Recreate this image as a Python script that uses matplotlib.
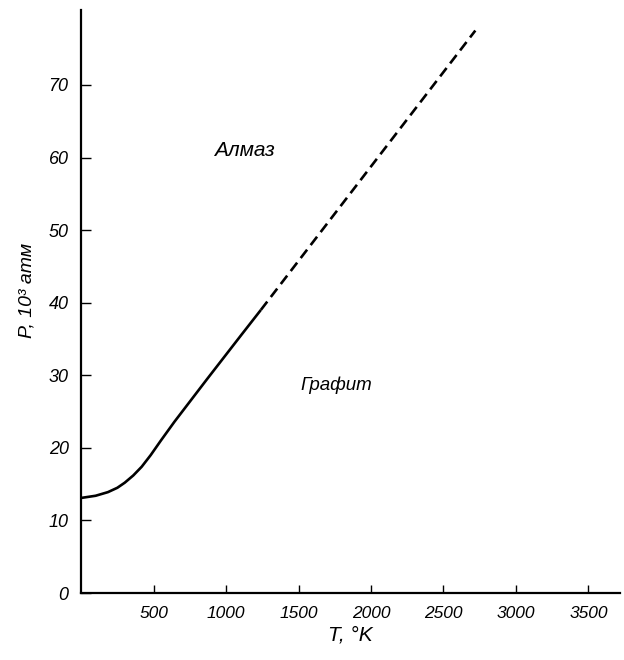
import matplotlib
matplotlib.use("Agg")
import matplotlib.pyplot as plt

# phase boundary graphite / diamond
t_solid = [0, 100, 185, 250, 301, 360, 418, 480, 550, 644, 870, 1103, 1240]
p_solid = [13.1, 13.4, 13.9, 14.5, 15.2, 16.2, 17.4, 19.0, 21.0, 23.6, 29.5, 35.5, 39.0]
t_dash = [1240, 2720]
p_dash = [39.0, 77.5]

x_ticks = [500, 1000, 1500, 2000, 2500, 3000, 3500]
y_ticks = [0, 10, 20, 30, 40, 50, 60, 70]

plt.rcParams['font.family'] = ['Liberation Sans', 'DejaVu Sans']

fig = plt.figure(figsize=(6.24, 6.6), dpi=100)
ax = fig.add_axes([0.13, 0.1015, 0.864, 0.883])

ax.plot(t_solid, p_solid, color='black', lw=1.9, solid_capstyle='butt',
        solid_joinstyle='round')
ax.plot(t_dash, p_dash, color='black', lw=1.9, linestyle=(0, (4, 2.2)))

ax.text(918, 61, 'Алмаз', fontsize=15, style='italic', va='center', ha='left')
ax.text(1514, 28.6, 'Графит', fontsize=13.5, style='italic', va='center', ha='left')

ax.set_xlim(0, 3720)
ax.set_ylim(0, 80.3)
ax.set_xticks(x_ticks)
ax.set_yticks(y_ticks)
ax.set_xticklabels([str(v) for v in x_ticks], fontsize=12.5, style='italic')
ax.set_yticklabels([str(v) for v in y_ticks], fontsize=13, style='italic')
ax.tick_params(axis='y', direction='in', length=7, width=1, pad=9)
ax.tick_params(axis='x', direction='in', length=6, width=1, pad=9)

for side in ['top', 'right']:
    ax.spines[side].set_visible(False)
for side in ['left', 'bottom']:
    ax.spines[side].set_linewidth(1.6)

ax.set_xlabel('T, °K', fontsize=15, style='italic', labelpad=2)
ax.xaxis.set_label_coords(0.5, -0.055)
ax.set_ylabel('P, 10³ атм', fontsize=14, style='italic', labelpad=6)
ax.yaxis.set_label_coords(-0.085, 0.52)

fig.savefig('out.png', dpi=100)
